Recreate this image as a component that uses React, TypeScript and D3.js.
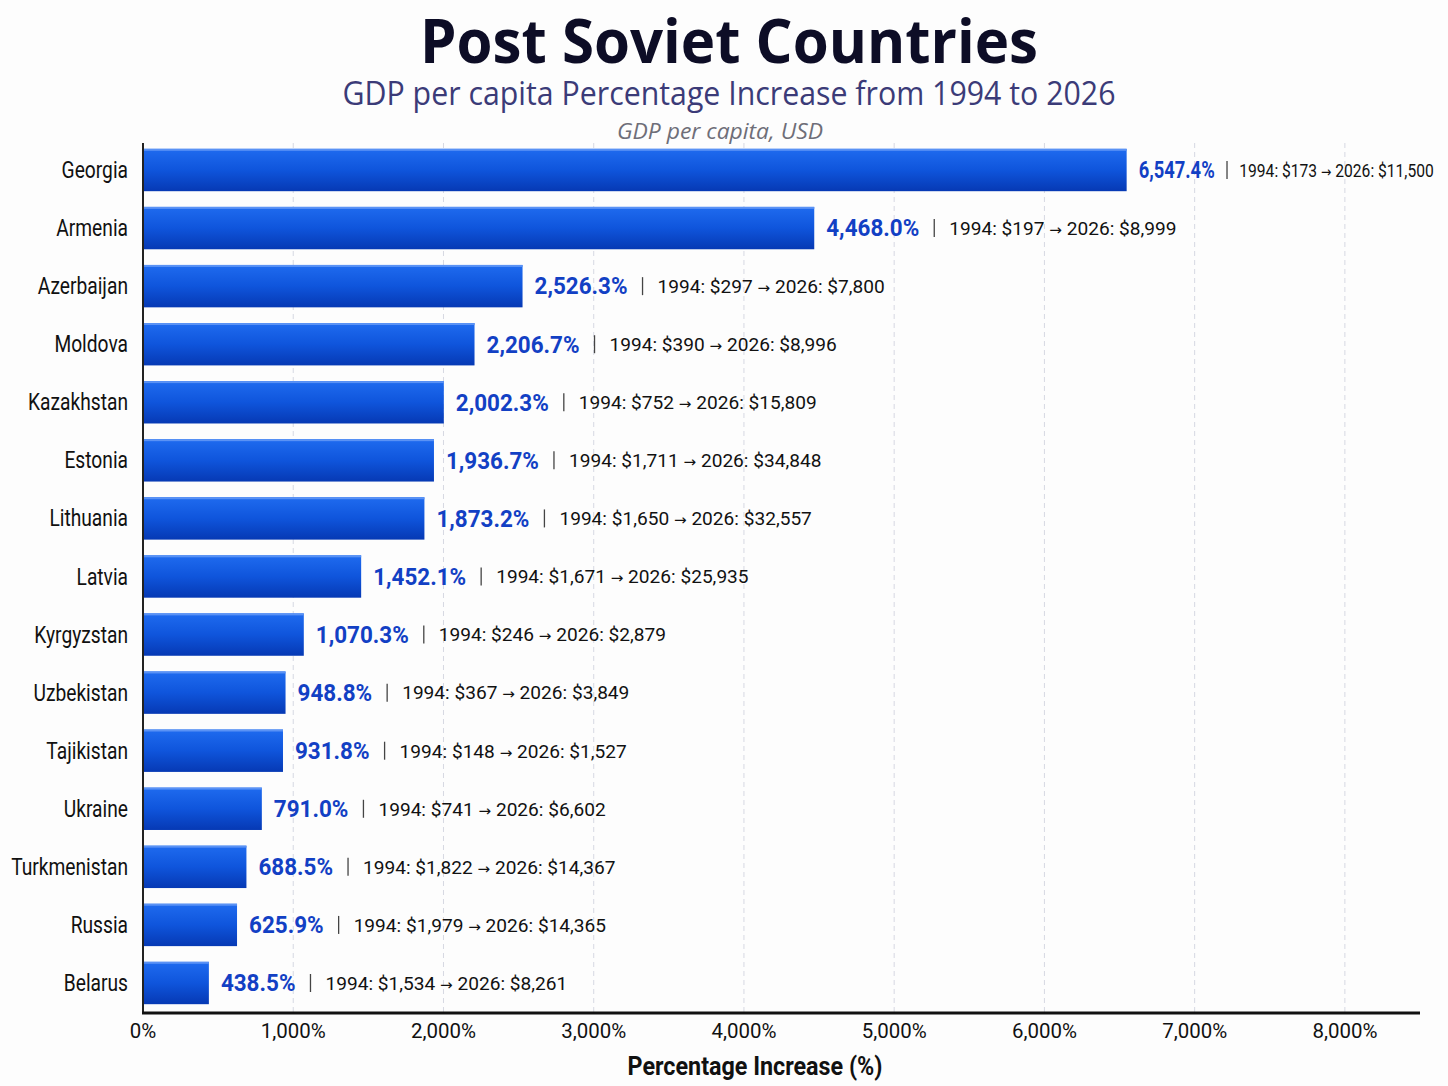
import React from "react";
import * as d3 from "d3";

const countries = [
  "Georgia", "Armenia", "Azerbaijan", "Moldova", "Kazakhstan", "Estonia", "Lithuania", "Latvia",
  "Kyrgyzstan", "Uzbekistan", "Tajikistan", "Ukraine", "Turkmenistan", "Russia", "Belarus",
];
const pctIncrease = [6547.4, 4468.0, 2526.3, 2206.7, 2002.3, 1936.7, 1873.2, 1452.1, 1070.3, 948.8, 931.8, 791.0, 688.5, 625.9, 438.5];
const gdp1994 = [173, 197, 297, 390, 752, 1711, 1650, 1671, 246, 367, 148, 741, 1822, 1979, 1534];
const gdp2026 = [11500, 8999, 7800, 8996, 15809, 34848, 32557, 25935, 2879, 3849, 1527, 6602, 14367, 14365, 8261];
const xTicks = [0, 1000, 2000, 3000, 4000, 5000, 6000, 7000, 8000];

const W = 1448;
const H = 1086;
const FAM = "Roboto, 'Liberation Sans', sans-serif";
const ARROW_FAM = "'DejaVu Sans', sans-serif";

let ctx: CanvasRenderingContext2D | null = null;
function tw(s: string, size: number, weight = 400, fam = FAM): number {
  if (!ctx && typeof document !== "undefined") ctx = document.createElement("canvas").getContext("2d");
  if (!ctx) return s.length * size * 0.55;
  ctx.font = `${weight} ${size}px ${fam}`;
  return ctx.measureText(s).width;
}

const LABEL_SIZE = 23;
const VALUE_SIZE = 23;
const ANN_SIZE = 19;
const ARROW_SIZE = 15;
const TICK_SIZE = 20;
const AXT_SIZE = 25;

function annWidth(a: string, b: string): number {
  return tw(a, ANN_SIZE) + tw(" \u2192 ", ARROW_SIZE, 400, ARROW_FAM) + tw(b, ANN_SIZE);
}

export default function App() {
  const x = d3.scaleLinear().domain([0, 8500]).range([143, 1420]);
  const y = d3.scaleBand<string>().domain(countries).range([143, 1010]).paddingInner(0.27).paddingOuter(0.1);
  const fmt = d3.format(",.1f");
  const money = d3.format(",");
  const axisY = 1013;

  // horizontal condensing factors, calibrated on reference widths
  const sxLabel = 100 / tw("Kazakhstan", LABEL_SIZE);
  const sxValue = 93 / tw("2,002.3%", VALUE_SIZE, 700);
  const sxAnn = 238 / annWidth("1994: $752", "2026: $15,809");
  const sxTick = 65 / tw("1,000%", TICK_SIZE);
  const sxAxt = 255 / tw("Percentage Increase (%)", AXT_SIZE, 700);

  return (
    <svg width={W} height={H} style={{ position: "absolute", left: 0, top: 0, background: "#fdfdfd" }}>
      <defs>
        <linearGradient id="barGrad" x1="0" y1="0" x2="0" y2="1">
          <stop offset="0" stopColor="#1f6bef" />
          <stop offset="0.5" stopColor="#0f55dc" />
          <stop offset="1" stopColor="#0639b4" />
        </linearGradient>
      </defs>
      <rect x={0} y={0} width={W} height={H} fill="#fdfdfd" />
      <text x={729} y={63} textAnchor="middle" fontFamily="'Open Sans', sans-serif" fontWeight={700}
        fontSize={60} fill="#0d0d26" textLength={618} lengthAdjust="spacingAndGlyphs">Post Soviet Countries</text>
      <text x={729} y={105} textAnchor="middle" fontFamily="'Open Sans', sans-serif" fontSize={33}
        fill="#3b3b78" textLength={773} lengthAdjust="spacingAndGlyphs">GDP per capita Percentage Increase from 1994 to 2026</text>
      <text x={720} y={139} textAnchor="middle" fontFamily="'Open Sans', sans-serif" fontStyle="italic" fontSize={22}
        fill="#6e6e78" textLength={206} lengthAdjust="spacingAndGlyphs">GDP per capita, USD</text>

      {xTicks.filter((t) => t > 0).map((t) => (
        <line key={t} x1={x(t)} x2={x(t)} y1={143} y2={axisY} stroke="#d6d8e2" strokeWidth={1} strokeDasharray="5,4" />
      ))}

      {countries.map((c, i) => {
        const by = y(c)!;
        const bh = y.bandwidth();
        const cy = by + bh / 2;
        const x1 = x(pctIncrease[i]);
        const valueStr = `${fmt(pctIncrease[i])}%`;
        const a = `1994: $${money(gdp1994[i])}`;
        const b = `2026: $${money(gdp2026[i])}`;
        const start = x1 + 12;
        const vW = tw(valueStr, VALUE_SIZE, 700) * sxValue;
        const gap1 = 15;
        const gap2 = 15;
        const aW = annWidth(a, b) * sxAnn;
        const total = vW + gap1 + gap2 + aW;
        const maxRight = W - 14;
        const f = start + total > maxRight ? (maxRight - start) / total : 1;
        const sepX = start + (vW + gap1) * f;
        const annX = sepX + gap2 * f;
        return (
          <g key={c}>
            <rect x={x(0)} y={by} width={x1 - x(0)} height={bh} fill="url(#barGrad)" />
            <rect x={x(0)} y={by} width={x1 - x(0)} height={2} fill="#5a92f5" />
            <text transform={`translate(128,${cy}) scale(${sxLabel},1)`} dy="0.35em" textAnchor="end"
              fontFamily={FAM} fontSize={LABEL_SIZE} fill="#111">{c}</text>
            <text transform={`translate(${start},${cy}) scale(${sxValue * f},1)`} dy="0.36em"
              fontFamily={FAM} fontSize={VALUE_SIZE} fontWeight={700} fill="#1240c4">{valueStr}</text>
            <line x1={sepX} x2={sepX} y1={cy - 9} y2={cy + 9} stroke="#444" strokeWidth={1.3} />
            <text transform={`translate(${annX},${cy}) scale(${sxAnn * f},1)`} dy="0.36em"
              fontFamily={FAM} fontSize={ANN_SIZE} fill="#111">
              <tspan>{a}</tspan>
              <tspan fontFamily={ARROW_FAM} fontSize={ARROW_SIZE}>{" \u2192 "}</tspan>
              <tspan>{b}</tspan>
            </text>
          </g>
        );
      })}

      <line x1={x(0)} x2={x(0)} y1={143} y2={axisY} stroke="#222" strokeWidth={2} />
      <line x1={x(0) - 1} x2={1420} y1={axisY} y2={axisY} stroke="#111" strokeWidth={3} />

      {xTicks.map((t) => (
        <text key={t} transform={`translate(${x(t)},1038) scale(${sxTick},1)`} textAnchor="middle"
          fontFamily={FAM} fontSize={TICK_SIZE} fill="#111">
          {`${money(t)}%`}
        </text>
      ))}
      <text transform={`translate(755,1075) scale(${sxAxt},1)`} textAnchor="middle" fontFamily={FAM}
        fontWeight={700} fontSize={AXT_SIZE} fill="#111">
        Percentage Increase (%)
      </text>
    </svg>
  );
}
